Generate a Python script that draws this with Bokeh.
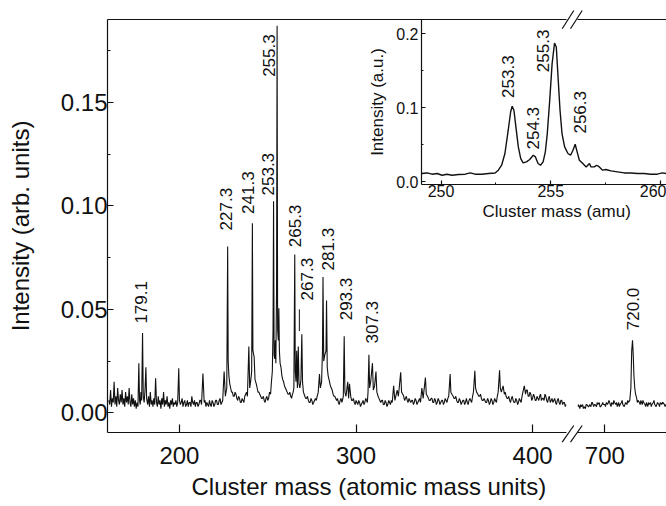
from math import pi
from bokeh.plotting import figure
from bokeh.models import (Range1d, LinearAxis, FixedTicker, NumeralTickFormatter,
                          Title, GridBox)
from bokeh.core.properties import value
from bokeh.embed import file_html
from bokeh.resources import INLINE

FONT = "Liberation Sans"
INK = "#111111"

# ---------------- data: main spectrum, low-mass segment ----------------
mass_a = [
    160.0, 160.5, 161.0, 161.5, 162.0, 162.5, 163.0, 163.5, 164.0, 164.5,
    165.0, 165.5, 166.0, 166.5, 167.0, 167.5, 168.0, 168.5, 169.0, 169.5,
    170.0, 170.5, 171.0, 171.5, 172.0, 172.5, 173.0, 173.5, 174.0, 174.5,
    175.0, 175.5, 176.0, 176.5, 177.0, 177.4, 177.8, 178.2, 178.6, 179.1,
    179.5, 180.0, 180.5, 181.0, 181.4, 182.0, 182.5, 183.0, 183.5, 184.0,
    184.5, 185.0, 185.5, 186.0, 186.5, 187.0, 187.5, 188.0, 188.5, 189.0,
    189.5, 190.0, 190.5, 191.0, 191.5, 192.0, 192.5, 193.0, 193.5, 194.0,
    194.5, 195.0, 195.5, 196.0, 196.5, 197.0, 197.5, 198.0, 198.5, 199.0,
    199.6, 200.0, 200.5, 201.0, 202.0, 203.0, 204.0, 205.0, 206.0, 207.0,
    208.0, 209.0, 210.0, 211.0, 212.0, 213.3, 214.0, 215.0, 216.0, 217.0,
    218.0, 219.0, 220.0, 221.0, 222.0, 223.0, 224.0, 225.3, 226.0, 226.8,
    227.3, 227.6, 228.0, 228.5, 229.0, 230.0, 231.0, 232.0, 233.0, 234.0,
    235.0, 236.0, 237.0, 238.0, 239.3, 239.8, 240.3, 240.9, 241.3, 241.6,
    242.3, 242.8, 243.5, 244.0, 245.0, 246.0, 247.0, 248.0, 249.0, 250.0,
    251.0, 251.6, 252.0, 252.6, 253.0, 253.3, 253.6, 254.0, 254.3, 254.6,
    255.0, 255.3, 255.6, 256.0, 256.3, 256.6, 257.0, 257.5, 258.0, 259.0,
    260.0, 261.0, 262.0, 263.0, 264.0, 264.8, 265.3, 265.6, 266.0, 266.4,
    266.8, 267.3, 267.7, 268.2, 268.8, 269.3, 269.7, 270.2, 271.0, 272.0,
    273.0, 274.0, 275.0, 276.0, 277.0, 278.0, 278.6, 279.3, 279.8, 280.5,
    281.0, 281.3, 281.7, 282.3, 283.0, 283.3, 283.7, 284.2, 285.0, 286.0,
    287.0, 288.0, 289.0, 290.0, 291.0, 292.0, 292.8, 293.3, 293.7, 294.3,
    295.3, 295.8, 296.3, 297.0, 298.0, 299.0, 300.0, 301.0, 302.0, 303.0,
    304.0, 305.0, 306.0, 306.8, 307.3, 307.7, 308.3, 309.3, 309.8, 310.5,
    311.3, 311.8, 312.5, 313.0, 314.0, 315.0, 316.0, 317.0, 318.0, 319.0,
    320.0, 321.3, 322.0, 323.3, 324.0, 325.3, 325.8, 326.5, 327.0, 328.0,
    329.0, 330.0, 331.0, 332.0, 333.0, 334.0, 335.0, 336.0, 337.3, 338.0,
    339.3, 339.8, 340.5, 341.0, 342.0, 343.0, 344.0, 345.0, 346.0, 347.0,
    348.0, 349.0, 350.0, 351.0, 352.0, 353.3, 353.7, 354.3, 355.0, 356.0,
    357.0, 358.0, 359.0, 360.0, 361.0, 362.0, 363.0, 364.0, 365.0, 366.0,
    367.3, 367.7, 368.3, 369.0, 370.0, 371.0, 372.0, 373.0, 374.0, 375.0,
    376.0, 377.0, 378.0, 379.0, 380.0, 381.3, 381.7, 382.3, 383.3, 384.0,
    385.0, 386.0, 387.0, 388.0, 389.0, 390.0, 391.0, 392.0, 393.0, 394.0,
    395.3, 396.0, 397.0, 398.0, 399.0, 400.0, 401.0, 402.0, 403.0, 404.0,
    405.0, 406.0, 407.0, 408.0, 409.0, 410.0, 411.0, 412.0, 413.0, 414.0,
    415.0, 416.0, 417.0, 418.0, 419.0,
]
inten_a = [
    0.006, 0.004, 0.011, 0.003, 0.007, 0.005, 0.015, 0.004, 0.008, 0.003,
    0.012, 0.006, 0.004, 0.009, 0.005, 0.011, 0.004, 0.007, 0.003, 0.010,
    0.005, 0.008, 0.004, 0.012, 0.005, 0.003, 0.009, 0.004, 0.007, 0.003,
    0.006, 0.002, 0.005, 0.003, 0.024, 0.006, 0.004, 0.010, 0.006, 0.0386,
    0.008, 0.005, 0.011, 0.022, 0.007, 0.004, 0.008, 0.003, 0.010, 0.004,
    0.006, 0.003, 0.007, 0.004, 0.0167, 0.005, 0.003, 0.008, 0.004, 0.006,
    0.002, 0.007, 0.004, 0.010, 0.003, 0.006, 0.004, 0.008, 0.003, 0.005,
    0.002, 0.006, 0.004, 0.007, 0.003, 0.005, 0.004, 0.006, 0.003, 0.005,
    0.0215, 0.006, 0.004, 0.005, 0.003, 0.006, 0.004, 0.003, 0.005, 0.008,
    0.004, 0.003, 0.005, 0.004, 0.006, 0.019, 0.005, 0.003, 0.004, 0.006,
    0.003, 0.005, 0.004, 0.006, 0.004, 0.007, 0.005, 0.020, 0.008, 0.012,
    0.0804, 0.025, 0.018, 0.014, 0.012, 0.010, 0.008, 0.009, 0.006, 0.007,
    0.005, 0.006, 0.008, 0.010, 0.032, 0.012, 0.015, 0.020, 0.0916, 0.030,
    0.027, 0.016, 0.014, 0.012, 0.010, 0.008, 0.007, 0.006, 0.007, 0.006,
    0.010, 0.009, 0.014, 0.020, 0.040, 0.1022, 0.028, 0.026, 0.035, 0.024,
    0.060, 0.187, 0.040, 0.035, 0.0505, 0.030, 0.024, 0.022, 0.018, 0.015,
    0.012, 0.010, 0.009, 0.008, 0.009, 0.012, 0.0765, 0.020, 0.015, 0.030,
    0.012, 0.032, 0.014, 0.012, 0.016, 0.038, 0.015, 0.010, 0.008, 0.007,
    0.006, 0.005, 0.006, 0.005, 0.007, 0.008, 0.010, 0.0187, 0.012, 0.015,
    0.030, 0.0656, 0.025, 0.028, 0.030, 0.0543, 0.022, 0.018, 0.015, 0.012,
    0.009, 0.008, 0.006, 0.005, 0.006, 0.005, 0.008, 0.037, 0.010, 0.008,
    0.015, 0.007, 0.014, 0.008, 0.006, 0.005, 0.006, 0.004, 0.005, 0.004,
    0.006, 0.005, 0.006, 0.010, 0.028, 0.012, 0.015, 0.024, 0.011, 0.013,
    0.020, 0.010, 0.008, 0.007, 0.005, 0.006, 0.004, 0.005, 0.004, 0.005,
    0.006, 0.013, 0.006, 0.011, 0.008, 0.0196, 0.010, 0.009, 0.008, 0.007,
    0.006, 0.007, 0.005, 0.006, 0.005, 0.006, 0.005, 0.007, 0.012, 0.007,
    0.017, 0.009, 0.008, 0.007, 0.006, 0.007, 0.005, 0.006, 0.005, 0.006,
    0.005, 0.006, 0.005, 0.006, 0.007, 0.0187, 0.010, 0.009, 0.008, 0.007,
    0.006, 0.005, 0.006, 0.005, 0.006, 0.005, 0.005, 0.006, 0.006, 0.008,
    0.0203, 0.012, 0.010, 0.009, 0.008, 0.007, 0.006, 0.006, 0.005, 0.006,
    0.005, 0.006, 0.005, 0.006, 0.008, 0.0206, 0.012, 0.010, 0.013, 0.009,
    0.008, 0.007, 0.006, 0.007, 0.006, 0.005, 0.006, 0.005, 0.006, 0.008,
    0.013, 0.009, 0.011, 0.008, 0.009, 0.007, 0.008, 0.006, 0.007, 0.008,
    0.006, 0.007, 0.009, 0.006, 0.007, 0.005, 0.007, 0.006, 0.005, 0.006,
    0.005, 0.006, 0.004, 0.005, 0.004,
]
# extra in-between baseline readings (noise band) for the low-mass segment
mass_a_fill = [
    201.5, 202.5, 203.5, 204.5, 205.5, 206.5, 207.5, 208.5, 209.5, 210.5,
    211.5, 212.5, 214.5, 215.5, 216.5, 217.5, 218.5, 219.5, 220.5, 221.5,
    222.5, 223.5, 224.5, 229.5, 230.5, 231.5, 232.5, 233.5, 234.5, 235.5,
    236.5, 237.5, 238.5, 244.5, 245.5, 246.5, 247.5, 248.5, 249.5, 250.5,
    258.5, 259.5, 260.5, 261.5, 262.5, 263.5, 264.4, 271.5, 272.5, 273.5,
    274.5, 275.5, 276.5, 277.5, 285.5, 286.5, 287.5, 288.5, 289.5, 290.5,
    291.5, 292.3, 297.5, 298.5, 299.5, 300.5, 301.5, 302.5, 303.5, 304.5,
    305.5, 306.4, 313.5, 314.5, 315.5, 316.5, 317.5, 318.5, 319.5, 320.5,
    327.5, 328.5, 329.5, 330.5, 331.5, 332.5, 333.5, 334.5, 335.5, 336.5,
    341.5, 342.5, 343.5, 344.5, 345.5, 346.5, 347.5, 348.5, 349.5, 350.5,
    351.5, 352.5, 355.5, 356.5, 357.5, 358.5, 359.5, 360.5, 361.5, 362.5,
    363.5, 364.5, 365.5, 366.5, 369.5, 370.5, 371.5, 372.5, 373.5, 374.5,
    375.5, 376.5, 377.5, 378.5, 379.5, 380.5, 384.5, 385.5, 386.5, 387.5,
    388.5, 389.5, 390.5, 391.5, 392.5, 393.5, 394.5, 396.5, 397.5, 398.5,
    399.5, 400.5, 401.5, 402.5, 403.5, 404.5, 405.5, 406.5, 407.5, 408.5,
    409.5, 410.5, 411.5, 412.5, 413.5, 414.5, 415.5, 416.5, 417.5, 418.5,
]
inten_a_fill = [
    0.007, 0.005, 0.003, 0.006, 0.005, 0.003, 0.005, 0.006, 0.005, 0.003,
    0.006, 0.004, 0.006, 0.005, 0.003, 0.004, 0.006, 0.003, 0.006, 0.004,
    0.006, 0.004, 0.006, 0.010, 0.008, 0.010, 0.007, 0.008, 0.005, 0.007,
    0.005, 0.009, 0.008, 0.010, 0.009, 0.007, 0.008, 0.005, 0.008, 0.007,
    0.016, 0.013, 0.011, 0.009, 0.010, 0.007, 0.010, 0.007, 0.008, 0.005,
    0.007, 0.004, 0.006, 0.006, 0.013, 0.011, 0.008, 0.007, 0.007, 0.004,
    0.007, 0.006, 0.006, 0.007, 0.004, 0.005, 0.006, 0.003, 0.005, 0.004,
    0.007, 0.005, 0.006, 0.006, 0.004, 0.006, 0.003, 0.006, 0.004, 0.005,
    0.006, 0.008, 0.005, 0.006, 0.006, 0.004, 0.007, 0.004, 0.006, 0.005,
    0.006, 0.007, 0.005, 0.007, 0.004, 0.007, 0.004, 0.006, 0.004, 0.007,
    0.005, 0.008, 0.007, 0.008, 0.005, 0.007, 0.004, 0.006, 0.004, 0.007,
    0.004, 0.007, 0.005, 0.010, 0.008, 0.009, 0.006, 0.007, 0.005, 0.007,
    0.004, 0.007, 0.004, 0.007, 0.005, 0.010, 0.010, 0.007, 0.008, 0.005,
    0.008, 0.005, 0.007, 0.004, 0.007, 0.005, 0.010, 0.011, 0.008, 0.010,
    0.006, 0.009, 0.006, 0.008, 0.006, 0.009, 0.007, 0.006, 0.008, 0.005,
    0.008, 0.006, 0.005, 0.007, 0.004, 0.007, 0.004, 0.006, 0.005, 0.003,
]

# ---------------- data: main spectrum, high-mass segment ----------------
mass_b = [
    680.5, 681.0, 682.0, 683.0, 684.0, 685.0, 686.0, 687.0, 688.0, 689.0,
    690.0, 691.0, 692.0, 693.0, 694.0, 695.0, 696.0, 697.0, 698.0, 699.0,
    700.0, 701.0, 702.0, 703.0, 704.0, 705.0, 706.0, 707.0, 708.0, 709.0,
    710.0, 711.0, 712.0, 713.0, 714.0, 715.0, 716.0, 717.0, 718.0, 718.8,
    719.4, 720.0, 720.5, 721.0, 721.6, 722.2, 723.0, 724.0, 725.0, 726.0,
    727.0, 728.0, 729.0, 730.0, 731.0, 732.0, 733.0, 734.0, 735.0, 736.0,
    737.0, 738.0, 739.0, 740.0, 741.0, 742.0, 743.0, 744.0, 745.0,
]
inten_b = [
    0.003, 0.004, 0.002, 0.003, 0.004, 0.003, 0.002, 0.004, 0.003, 0.004,
    0.003, 0.005, 0.003, 0.004, 0.003, 0.004, 0.005, 0.003, 0.004, 0.004,
    0.004, 0.005, 0.004, 0.006, 0.004, 0.005, 0.004, 0.005, 0.004, 0.003,
    0.005, 0.004, 0.005, 0.004, 0.003, 0.005, 0.004, 0.005, 0.006, 0.012,
    0.030, 0.035, 0.028, 0.018, 0.012, 0.009, 0.007, 0.006, 0.005, 0.006,
    0.004, 0.005, 0.004, 0.005, 0.003, 0.004, 0.005, 0.004, 0.005, 0.004,
    0.003, 0.005, 0.004, 0.005, 0.004, 0.005, 0.004, 0.004, 0.004,
]
mass_b_fill = [
    682.5, 684.5, 686.5, 688.5, 690.5, 692.5, 694.5, 696.5, 698.5, 700.5,
    702.5, 704.5, 706.5, 708.5, 710.5, 712.5, 714.5, 716.5, 723.5, 725.5,
    727.5, 729.5, 731.5, 733.5, 735.5, 737.5, 739.5, 741.5, 743.5,
]
inten_b_fill = [
    0.004, 0.002, 0.004, 0.003, 0.005, 0.004, 0.005, 0.003, 0.005, 0.003,
    0.005, 0.003, 0.006, 0.005, 0.003, 0.006, 0.004, 0.006, 0.005, 0.004,
    0.006, 0.003, 0.005, 0.003, 0.006, 0.004, 0.003, 0.005, 0.003,
]

# ---------------- peak labels (main) ----------------
lab_a_txt = ["179.1", "227.3", "241.3", "253.3", "255.3", "265.3", "267.3",
             "281.3", "293.3", "307.3"]
lab_a_x = [178.1, 226.3, 238.6, 250.3, 250.9, 265.5, 272.5, 283.9, 294.2, 309.3]
lab_a_y = [0.0431, 0.0881, 0.0961, 0.1050, 0.1623, 0.0800, 0.0543, 0.0688,
           0.0447, 0.0335]
lead_x = [267.9]
lead_y0 = [0.0395]
lead_y1 = [0.0500]

lab_b_txt = ["720.0"]
lab_b_x = [720.0]
lab_b_y = [0.0399]

# ---------------- inset data ----------------
inset_mass = [
    249.11, 249.37, 249.59, 249.82, 250.05, 250.27, 250.50, 250.80, 251.10, 251.33,
    251.55, 251.86, 252.16, 252.46, 252.61, 252.76, 252.91, 253.06, 253.17, 253.24,
    253.32, 253.41, 253.52, 253.63, 253.74, 253.89, 254.04, 254.20, 254.30, 254.42,
    254.53, 254.65, 254.75, 254.84, 254.95, 255.06, 255.17, 255.25, 255.33, 255.42,
    255.51, 255.63, 255.78, 255.90, 256.01, 256.11, 256.20, 256.30, 256.46, 256.61,
    256.76, 256.83, 256.98, 257.09, 257.21, 257.36, 257.51, 257.74, 258.04, 258.34,
    258.64, 258.95, 259.25, 259.55, 259.85, 260.08, 260.27,
]
inset_int = [
    0.0113, 0.0121, 0.0104, 0.0113, 0.0090, 0.0104, 0.0090, 0.0099, 0.0104, 0.0121,
    0.0104, 0.0104, 0.0113, 0.0121, 0.0158, 0.0225, 0.0383, 0.0697, 0.0943, 0.1020,
    0.0966, 0.0741, 0.0472, 0.0315, 0.0256, 0.0270, 0.0302, 0.0360, 0.0337, 0.0248,
    0.0225, 0.0270, 0.0404, 0.0652, 0.1100, 0.1596, 0.1873, 0.1820, 0.1415, 0.0966,
    0.0652, 0.0472, 0.0383, 0.0360, 0.0427, 0.0508, 0.0404, 0.0292, 0.0248, 0.0202,
    0.0248, 0.0202, 0.0202, 0.0225, 0.0202, 0.0158, 0.0167, 0.0149, 0.0135, 0.0121,
    0.0121, 0.0113, 0.0113, 0.0104, 0.0104, 0.0121, 0.0113,
]
inset_lab_txt = ["253.3", "254.3", "255.3", "256.3"]
inset_lab_x = [253.06, 254.20, 254.65, 256.31]
inset_lab_y = [0.1132, 0.0437, 0.1480, 0.0652]

# ---------------- ticks ----------------
x_ticks_a = [200, 300, 400]
x_ticks_b = [700]
y_ticks = [0.0, 0.05, 0.10, 0.15]
y_minor = [0.025, 0.075, 0.125, 0.175]
inset_x_ticks = [250, 255, 260]
inset_x_minor = [252.5, 257.5]
inset_y_ticks = [0.0, 0.1, 0.2]
inset_y_minor = [0.05, 0.15]

# merge the main readings with the in-between baseline readings (ordered by mass)
seg_a = sorted(zip(mass_a + mass_a_fill, inten_a + inten_a_fill))
seg_b = sorted(zip(mass_b + mass_b_fill, inten_b + inten_b_fill))
xa_all = [m for m, _ in seg_a]
ya_all = [v for _, v in seg_a]
xb_all = [m for m, _ in seg_b]
yb_all = [v for _, v in seg_b]


def style_axis(ax, size, tick_in, minor_in, standoff):
    ax.axis_line_color = INK
    ax.axis_line_width = 1.2
    ax.major_tick_line_color = INK
    ax.minor_tick_line_color = INK
    ax.major_tick_line_width = 1.2
    ax.major_tick_in = tick_in
    ax.major_tick_out = 0
    ax.minor_tick_in = minor_in
    ax.minor_tick_out = 0
    ax.major_label_text_font = FONT
    ax.major_label_text_font_size = size
    ax.major_label_text_color = INK
    ax.major_label_standoff = standoff


def blank_top(p):
    ax = LinearAxis(ticker=FixedTicker(ticks=[]), axis_line_color=INK,
                    axis_line_width=1.2, major_tick_in=0, major_tick_out=0,
                    minor_tick_in=0, minor_tick_out=0,
                    major_label_text_font_size="0px")
    p.add_layout(ax, "above")


def base_fig(**kw):
    p = figure(output_backend="svg", toolbar_location=None, title=None,
               frame_align=False,
               background_fill_alpha=0, border_fill_alpha=0, **kw)
    p.outline_line_color = None
    p.grid.grid_line_color = None
    return p


yr = Range1d(-0.0095, 0.19)

# ---------------- left (main) panel ----------------
pL = base_fig(width=586, height=506, x_range=Range1d(159.25, 419.2), y_range=yr,
              min_border_left=107, min_border_right=20, min_border_top=19,
              min_border_bottom=74)
xa = pL.xaxis[0]
xa.ticker = FixedTicker(ticks=x_ticks_a, minor_ticks=[])
style_axis(xa, "24px", 8, 0, 14)
ya = pL.yaxis[0]
ya.ticker = FixedTicker(ticks=y_ticks, minor_ticks=y_minor)
ya.formatter = NumeralTickFormatter(format="0.00")
style_axis(ya, "24px", 6, 3, 0)
ya.axis_label = "Intensity (arb. units)"
ya.axis_label_text_font = FONT
ya.axis_label_text_font_size = "24px"
ya.axis_label_text_font_style = "normal"
ya.axis_label_text_color = INK
ya.axis_label_standoff = 24
blank_top(pL)
pL.add_layout(Title(text="Cluster mass (atomic mass units)", align="left", offset=84,
                    standoff=9, text_font=FONT, text_font_size="24px",
                    text_font_style="normal", text_color=INK), "below")

pL.line(xa_all, ya_all, line_color=INK, line_width=1.1)
pL.text(x=lab_a_x, y=lab_a_y, text=lab_a_txt, angle=pi / 2, text_align="left",
        text_baseline="middle", text_font=value(FONT), text_font_size=value("17px"),
        text_color=INK)
pL.segment(x0=lead_x, y0=lead_y0, x1=lead_x, y1=lead_y1, line_color=INK, line_width=1)

# ---------------- right (main) panel ----------------
pR = base_fig(width=89, height=506, x_range=Range1d(680.3, 744.5), y_range=yr,
              y_axis_location=None, min_border_left=0, min_border_right=0,
              min_border_top=19, min_border_bottom=74)
xb = pR.xaxis[0]
xb.ticker = FixedTicker(ticks=x_ticks_b, minor_ticks=[])
style_axis(xb, "24px", 8, 0, 14)
blank_top(pR)
pR.line(xb_all, yb_all, line_color=INK, line_width=1.1)
pR.text(x=lab_b_x, y=lab_b_y, text=lab_b_txt, angle=pi / 2, text_align="left",
        text_baseline="middle", text_font=value(FONT), text_font_size=value("17px"),
        text_color=INK)

# ---------------- axis-break marks (decoration, page-pixel frame) ----------------
pB = base_fig(width=30, height=506, x_range=Range1d(556, 586), y_range=Range1d(506, 0),
              x_axis_location=None, y_axis_location=None, min_border_left=0,
              min_border_right=0, min_border_top=0, min_border_bottom=0)
pB.segment(x0=[561.7, 570.0, 561.7, 570.0], y0=[441.7, 441.7, 28.3, 28.3],
           x1=[573.3, 581.7, 573.3, 581.7], y1=[425.0, 425.0, 10.0, 10.0],
           line_color=INK, line_width=1.2)

# ---------------- inset ----------------
pI = base_fig(width=301, height=238, x_range=Range1d(249.11, 260.27),
              y_range=Range1d(-0.0035, 0.219), min_border_left=54,
              min_border_right=0, min_border_top=19, min_border_bottom=54)
xi = pI.xaxis[0]
xi.ticker = FixedTicker(ticks=inset_x_ticks, minor_ticks=inset_x_minor)
style_axis(xi, "16px", 4, 2, 0)
yi = pI.yaxis[0]
yi.ticker = FixedTicker(ticks=inset_y_ticks, minor_ticks=inset_y_minor)
yi.formatter = NumeralTickFormatter(format="0.0")
style_axis(yi, "16px", 4, 2, 3)
yi.axis_label = "Intensity (a.u.)"
yi.axis_label_text_font = FONT
yi.axis_label_text_font_size = "17px"
yi.axis_label_text_font_style = "normal"
yi.axis_label_text_color = INK
yi.axis_label_standoff = 6
pI.add_layout(Title(text="Cluster mass (amu)", align="left", offset=61, standoff=0,
                    text_font=FONT, text_font_size="17px", text_font_style="normal",
                    text_color=INK), "below")
pI.line(inset_mass, inset_int, line_color=INK, line_width=1.4)
pI.text(x=inset_lab_x, y=inset_lab_y, text=inset_lab_txt, angle=pi / 2,
        text_align="left", text_baseline="middle", text_font=value(FONT),
        text_font_size=value("17px"), text_color=INK)

layout = GridBox(children=[(pL, 0, 0, 2, 4), (pR, 0, 3, 2, 2), (pB, 0, 2, 2, 2),
                           (pI, 0, 1, 1, 4)],
                 cols=["365px", "191px", "21px", "9px", "80px"],
                 rows=["238px", "268px"], spacing=0)

open("out.html", "w").write(file_html(layout, INLINE, title="Cluster mass spectrum"))
